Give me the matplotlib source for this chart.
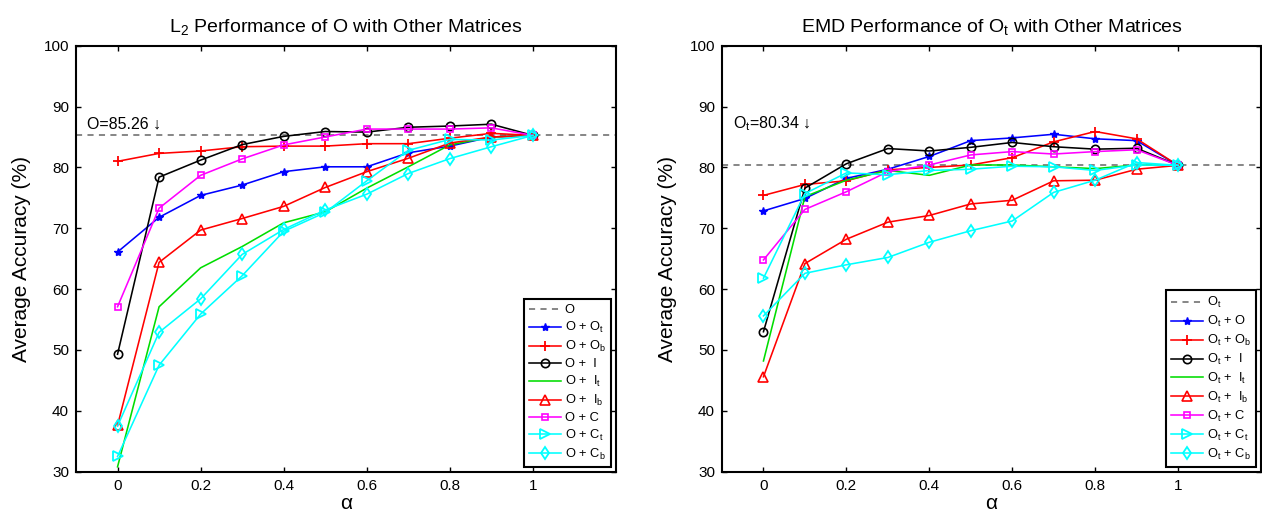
import matplotlib
matplotlib.use("Agg")
import matplotlib.pyplot as plt

plt.rcParams['font.family'] = ['Liberation Sans', 'DejaVu Sans']
plt.rcParams['mathtext.fontset'] = 'custom'
plt.rcParams['mathtext.rm'] = 'Liberation Sans'
plt.rcParams['mathtext.it'] = 'Liberation Sans'

alpha = [0, 0.1, 0.2, 0.3, 0.4, 0.5, 0.6, 0.7, 0.8, 0.9, 1.0]

# Left: L2 performance of O
base_left = 85.26
l_Ot = [66.1, 71.8, 75.4, 77.1, 79.3, 80.1, 80.1, 82.4, 83.5, 85.0, 85.26]
l_Ob = [81.0, 82.3, 82.7, 83.4, 83.5, 83.5, 83.9, 83.9, 84.8, 85.6, 85.26]
l_I = [49.3, 78.4, 81.2, 83.75, 85.1, 85.9, 85.8, 86.6, 86.8, 87.1, 85.26]
l_It = [30.8, 57.1, 63.5, 67.0, 70.9, 72.7, 76.6, 80.1, 83.7, 85.0, 85.26]
l_Ib = [37.6, 64.4, 69.7, 71.6, 73.6, 76.7, 79.3, 81.5, 84.0, 85.0, 85.26]
l_C = [57.1, 73.3, 78.7, 81.4, 83.7, 85.0, 86.3, 86.3, 86.3, 86.5, 85.26]
l_Ct = [32.5, 47.5, 55.9, 62.2, 69.5, 72.6, 77.8, 82.8, 84.6, 84.5, 85.26]
l_Cb = [37.5, 52.9, 58.4, 65.7, 69.8, 73.0, 75.6, 79.0, 81.45, 83.4, 85.26]

# Right: EMD performance of Ot
base_right = 80.34
r_O = [72.85, 74.9, 78.2, 79.7, 81.8, 84.4, 84.85, 85.45, 84.7, 84.4, 80.34]
r_Ob = [75.4, 77.2, 77.8, 79.6, 80.0, 80.4, 81.6, 84.2, 85.9, 84.7, 80.34]
r_I = [53.0, 76.6, 80.6, 83.1, 82.7, 83.3, 84.1, 83.4, 83.0, 83.15, 80.34]
r_It = [48.2, 75.2, 77.9, 79.5, 78.7, 80.4, 80.4, 80.1, 79.8, 80.4, 80.34]
r_Ib = [45.6, 64.2, 68.2, 71.0, 72.1, 74.0, 74.6, 77.8, 77.9, 79.7, 80.34]
r_C = [64.8, 73.1, 76.0, 79.3, 80.4, 82.05, 82.6, 82.2, 82.6, 82.9, 80.34]
r_Ct = [61.8, 75.7, 79.1, 78.8, 79.5, 79.7, 80.2, 80.1, 79.5, 80.4, 80.34]
r_Cb = [55.6, 62.6, 64.0, 65.2, 67.7, 69.6, 71.2, 75.9, 77.9, 80.8, 80.34]

left_labels = ['O', r'O + O$_\mathregular{t}$', r'O + O$_\mathregular{b}$', 'O +  I',
               r'O +  I$_\mathregular{t}$', r'O +  I$_\mathregular{b}$', 'O + C',
               r'O + C$_\mathregular{t}$', r'O + C$_\mathregular{b}$']
right_labels = [r'O$_\mathregular{t}$', r'O$_\mathregular{t}$ + O', r'O$_\mathregular{t}$ + O$_\mathregular{b}$',
                r'O$_\mathregular{t}$ +  I', r'O$_\mathregular{t}$ +  I$_\mathregular{t}$',
                r'O$_\mathregular{t}$ +  I$_\mathregular{b}$', r'O$_\mathregular{t}$ + C',
                r'O$_\mathregular{t}$ + C$_\mathregular{t}$', r'O$_\mathregular{t}$ + C$_\mathregular{b}$']

styles = [
    dict(color='#0000ff', marker='*', ms=6, mfc='#0000ff', mew=1.0),
    dict(color='#ff0000', marker='+', ms=6.5, mew=1.3),
    dict(color='#000000', marker='o', ms=6, mfc='none', mew=1.2),
    dict(color='#00dd00', marker=None),
    dict(color='#ff0000', marker='^', ms=6.5, mfc='none', mew=1.2),
    dict(color='#ff00ff', marker='s', ms=5, mfc='none', mew=1.2),
    dict(color='#00ffff', marker='>', ms=6.5, mfc='none', mew=1.3),
    dict(color='#00ffff', marker='d', ms=6.5, mfc='none', mew=1.3),
]

fig = plt.figure(figsize=(12.62, 5.17), dpi=100)
ax1 = fig.add_axes([76/1262, 45.3/517, 540/1262, 426/517])
ax2 = fig.add_axes([722/1262, 45.3/517, 539/1262, 426/517])

def draw(ax, base, series, labels, title, annot):
    ax.axhline(base, color='#666666', ls=(0, (4, 3.5)), lw=1.1, label=labels[0])
    for s, lab, st in zip(series, labels[1:], styles):
        ax.plot(alpha, s, lw=1.15, label=lab, **st)
    ax.set_xlim(-0.1, 1.2)
    ax.set_ylim(30, 100)
    ax.set_xticks([0, 0.2, 0.4, 0.6, 0.8, 1.0])
    ax.set_xticklabels(['0', '0.2', '0.4', '0.6', '0.8', '1'])
    ax.set_yticks(range(30, 101, 10))
    ax.tick_params(direction='in', top=True, right=True, labelsize=11, length=3.5,
                   width=1, pad=5)
    for sp in ax.spines.values():
        sp.set_linewidth(1.5)
    ax.set_xlabel('α', fontsize=15, labelpad=1)
    ax.set_ylabel('Average Accuracy (%)', fontsize=15, labelpad=9)
    ax.set_title(title, fontsize=14, pad=10)
    ax.text(-0.073, 86.35, annot, fontsize=11.5, va='baseline', ha='left')
    leg = ax.legend(loc='lower right', fontsize=9.3, handlelength=2.5, labelspacing=0.3,
                    handletextpad=0.3, borderpad=0.4, fancybox=False, framealpha=1,
                    borderaxespad=0.35, edgecolor='black')
    leg.get_frame().set_linewidth(1.5)

draw(ax1, base_left, [l_Ot, l_Ob, l_I, l_It, l_Ib, l_C, l_Ct, l_Cb], left_labels,
     r'L$_\mathregular{2}$ Performance of O with Other Matrices', 'O=85.26 ↓')
draw(ax2, base_right, [r_O, r_Ob, r_I, r_It, r_Ib, r_C, r_Ct, r_Cb], right_labels,
     r'EMD Performance of O$_\mathregular{t}$ with Other Matrices', r'O$_\mathregular{t}$=80.34 ↓')

fig.savefig('out.png', dpi=100)
